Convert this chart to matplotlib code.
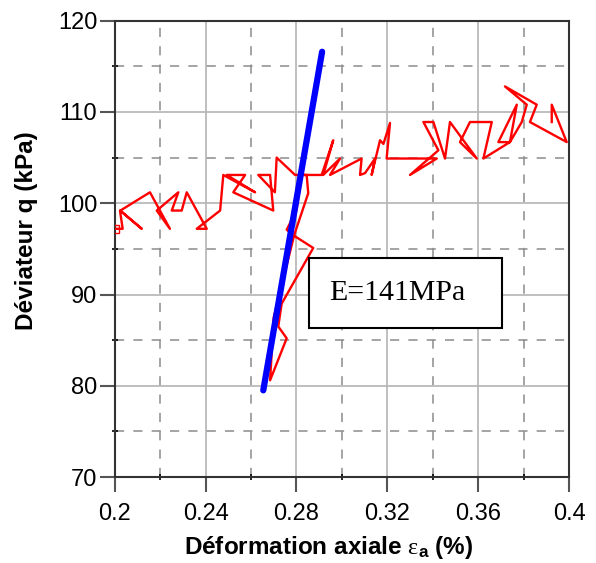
import matplotlib
matplotlib.use("Agg")
import matplotlib.pyplot as plt
from matplotlib.ticker import MultipleLocator
from matplotlib.patches import Rectangle

plt.rcParams['font.family'] = ['Liberation Sans', 'DejaVu Sans']
plt.rcParams['mathtext.fontset'] = 'custom'
plt.rcParams['mathtext.rm'] = 'Liberation Serif'
plt.rcParams['mathtext.it'] = 'Liberation Serif:italic'
plt.rcParams['mathtext.bf'] = 'Liberation Sans:bold'

# Measured curve (axial strain %, deviator kPa)
strain = [0.2000, 0.2035, 0.2023, 0.2119, 0.2025, 0.2155, 0.2199, 0.2243, 0.2185,
          0.2280, 0.2251, 0.2295, 0.2317, 0.2405, 0.2361, 0.2464, 0.2478, 0.2618,
          0.2493, 0.2574, 0.2522, 0.2698, 0.2684, 0.2632, 0.2705, 0.2713, 0.2794,
          0.2845, 0.2852, 0.2790, 0.2755, 0.2700, 0.2684, 0.2757, 0.2720, 0.2735,
          0.2874, 0.2786, 0.2757, 0.2800, 0.2823, 0.2867, 0.2911, 0.2962, 0.2918,
          0.2992, 0.2948, 0.3087, 0.3080, 0.3102, 0.3146, 0.3131, 0.3168, 0.3183,
          0.3212, 0.3197, 0.3418, 0.3300, 0.3425, 0.3359, 0.3403, 0.3454, 0.3476,
          0.3594, 0.3520, 0.3564, 0.3660, 0.3623, 0.3740, 0.3770, 0.3689, 0.3740,
          0.3792, 0.3814, 0.3718, 0.3858, 0.3828, 0.3990, 0.3924, 0.3924]
deviator = [97.2, 97.2, 99.2, 97.2, 99.2, 101.2, 99.2, 97.2, 99.2,
            101.2, 99.2, 99.2, 101.2, 97.2, 97.2, 99.2, 103.1, 101.2,
            103.1, 103.1, 101.2, 99.2, 103.1, 103.1, 101.2, 105.0, 103.1,
            103.1, 101.1, 96.5, 93.0, 87.5, 80.6, 85.2, 86.5, 89.0,
            95.1, 96.5, 97.1, 99.2, 103.1, 103.1, 103.1, 106.9, 103.1,
            104.9, 103.1, 104.9, 103.1, 103.3, 104.9, 103.1, 106.9, 106.5,
            108.8, 104.9, 104.9, 103.1, 105.8, 108.9, 108.9, 104.9, 108.9,
            104.9, 106.7, 108.9, 108.9, 104.9, 106.7, 110.8, 106.7, 106.7,
            108.9, 110.8, 112.8, 110.8, 108.9, 106.7, 110.8, 108.9]

# Modulus fit line endpoints
fit_strain = [0.2654, 0.2913]
fit_q = [79.5, 116.6]
label_E = "E=141MPa"

fig = plt.figure(figsize=(5.96, 5.63), dpi=100)
ax = fig.add_axes([0.1925, 0.1527, 0.7622, 0.8105])

ax.set_xlim(0.2, 0.4)
ax.set_ylim(70, 120)
ax.xaxis.set_major_locator(MultipleLocator(0.04))
ax.xaxis.set_minor_locator(MultipleLocator(0.02))
ax.yaxis.set_major_locator(MultipleLocator(10))
ax.yaxis.set_minor_locator(MultipleLocator(5))
ax.set_xticks([0.2, 0.24, 0.28, 0.32, 0.36, 0.4])
ax.set_xticklabels(['0.2', '0.24', '0.28', '0.32', '0.36', '0.4'])

ax.grid(which='major', color='#b4b4b4', linestyle='-', linewidth=1.2, zorder=0)
ax.grid(which='minor', color='#8c8c8c', linestyle=(0, (6, 6)), linewidth=1.1, zorder=0)
ax.set_axisbelow(True)

ax.plot(strain, deviator, color='red', linewidth=1.7, zorder=3)
ax.plot(strain[:1], deviator[:1], marker='s', markersize=6, markerfacecolor='none',
        markeredgecolor='red', markeredgewidth=1.0, linestyle='none', zorder=4)
ax.plot(fit_strain, fit_q, color='#0000ff', linewidth=4.5, solid_capstyle='round', zorder=5)

ax.add_patch(Rectangle((0.4277, 0.3265), 0.4248, 0.1535, transform=ax.transAxes,
                       facecolor='white', edgecolor='black', linewidth=1.5, zorder=6))
ax.text(0.4277 + 0.045, 0.3265 + 0.0767, label_E, transform=ax.transAxes,
        family='Liberation Serif', fontsize=21.5, ha='left', va='center', zorder=7)

for s in ax.spines.values():
    s.set_color('#333333')
    s.set_linewidth(1.5)

ax.tick_params(which='major', direction='out', length=10.5, width=1.5, color='#555555',
               labelsize=17, pad=2)
ax.tick_params(axis='x', which='major', pad=8)
ax.tick_params(which='minor', direction='inout', length=5, width=1.2, color='black')

ax.set_xlabel(r'Déformation axiale $\mathrm{\varepsilon}_\mathbf{a}$ (%)', fontsize=17.5,
              fontweight='bold', labelpad=5)
ax.xaxis.set_label_coords(0.472, -0.125, transform=ax.transAxes)
ax.xaxis.label.set_va('top')
ax.set_ylabel('Déviateur q (kPa)', fontsize=17.5, fontweight='bold')
ax.yaxis.set_label_coords(-0.17, 0.541, transform=ax.transAxes)

fig.savefig('out.png', dpi=100)
